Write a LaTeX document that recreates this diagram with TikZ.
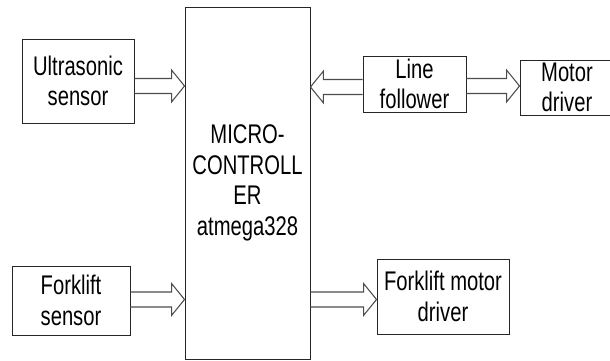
\documentclass[tikz,border=0pt]{standalone}
\usepackage{fontspec}
\setmainfont{Liberation Sans}[FakeStretch=0.75]
\usepackage{tikz}
\usetikzlibrary{positioning,calc}
\tikzset{
  x=0.03cm, y=-0.03cm,
  every node/.style={font=\fontsize{23}{26}\selectfont, align=center},
  block/.style={
    draw=black!85, line width=0.8pt, fill=white,
    inner sep=0pt
  },
  fatarrow/.style={draw=black!70, line width=0.9pt, line join=miter}
}
% hollow block arrow: tail, tip, signed head length
\newcommand{\fatarrow}[3]{%
  \draw[fatarrow] ($(#1)+(0,-7.5)$) -- ($(#2 |- #1)+(#3,-7.5)$)
    -- ($(#2 |- #1)+(#3,-16)$) -- (#2 |- #1)
    -- ($(#2 |- #1)+(#3,16)$) -- ($(#2 |- #1)+(#3,7.5)$)
    -- ($(#1)+(0,7.5)$);
}

\begin{document}
\begin{tikzpicture}
\useasboundingbox (0,0) rectangle (610,361);

% blocks
\node[block, minimum width=125*0.03cm, minimum height=352*0.03cm] (mcu) at (247.5,183)
  {MICRO-\\CONTROLL\\ER\\atmega328};
\node[block, minimum width=112*0.03cm, minimum height=84*0.03cm] (ultra) at (78,81)
  {Ultrasonic\\sensor};
\node[block, minimum width=118*0.03cm, minimum height=69*0.03cm] (fsens) at (71,300.5)
  {Forklift\\sensor};
\node[block, minimum width=103*0.03cm, minimum height=56*0.03cm] (line) at (414.5,84)
  {Line\\follower};
\node[block, minimum width=94*0.03cm, minimum height=55*0.03cm] (motor) at (567,87.5)
  {Motor\\driver};
\node[block, minimum width=132*0.03cm, minimum height=75*0.03cm] (fmotor) at (443,296.5)
  {Forklift motor\\driver};

% arrows
\coordinate (a1) at (ultra.east |- 0,86);
\fatarrow{a1}{mcu.west}{-13}
\coordinate (a2) at (line.west |- 0,87);
\fatarrow{a2}{mcu.east}{13}
\coordinate (a3) at (line.east |- 0,86);
\fatarrow{a3}{motor.west}{-13}
\coordinate (a4) at (fsens.east |- 0,299.5);
\fatarrow{a4}{mcu.west}{-13}
\coordinate (a5) at (mcu.east |- 0,299.5);
\fatarrow{a5}{fmotor.west}{-13}

\end{tikzpicture}
\end{document}
